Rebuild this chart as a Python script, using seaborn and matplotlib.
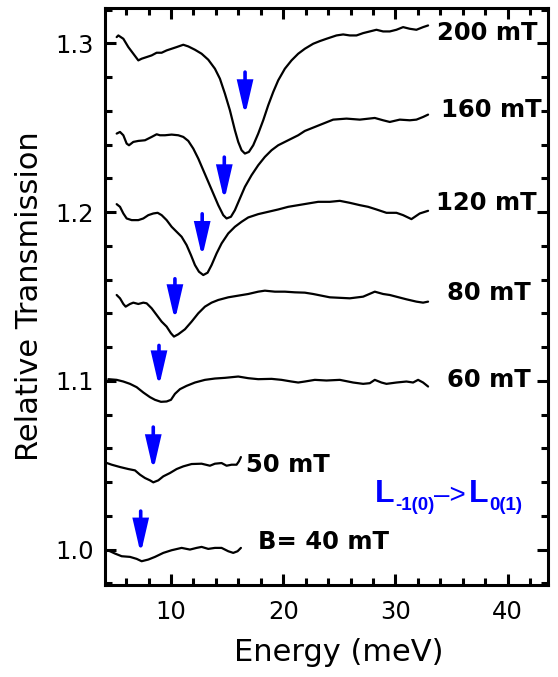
import numpy as np
import pandas as pd
import matplotlib
matplotlib.use("Agg")
import matplotlib.pyplot as plt
from matplotlib.ticker import MultipleLocator
import seaborn as sns

# Field labels of the stacked transmission spectra (top to bottom)
fields = ["200 mT", "160 mT", "120 mT", "80 mT", "60 mT", "50 mT", "B= 40 mT"]

# Spectra: photon energy (meV) and relative transmission (offset per field)
e_200 = [5.159, 5.307, 5.753, 6.198, 6.643, 7.088, 7.385, 7.830, 8.276, 8.721, 9.166, 9.611,
         10.056, 10.502, 11.095, 11.541, 12.134, 12.728, 13.322, 13.915, 14.36, 14.806, 15.251,
         15.696, 15.993, 16.29, 16.587, 16.943, 17.329, 17.774, 18.219, 18.664, 19.11, 19.555,
         20.148, 20.742, 21.336, 21.93, 22.671, 23.265, 23.859, 24.749, 25.343, 25.936, 26.53,
         27.124, 27.717, 28.311, 28.905, 29.498, 30.092, 30.686, 31.279, 31.873, 32.467, 32.912]
t_200 = [1.30375, 1.30473, 1.30276, 1.29783, 1.29389, 1.28994, 1.29093, 1.29191, 1.2929,
         1.29448, 1.29448, 1.29586, 1.29684, 1.29783, 1.29921, 1.29822, 1.29625, 1.29389,
         1.29034, 1.28501, 1.27909, 1.27022, 1.26036, 1.24852, 1.24162, 1.23669, 1.23472,
         1.2357, 1.23964, 1.24655, 1.25444, 1.26331, 1.2712, 1.27811, 1.28501, 1.28994, 1.29389,
         1.29684, 1.2998, 1.30138, 1.30276, 1.30473, 1.30532, 1.30473, 1.30473, 1.30611, 1.3071,
         1.30809, 1.3071, 1.3071, 1.30809, 1.30966, 1.30868, 1.30809, 1.30966, 1.31065]

e_160 = [5.159, 5.456, 5.753, 6.049, 6.257, 6.643, 7.088, 7.682, 8.276, 8.721, 9.018, 9.463,
         10.056, 10.65, 11.095, 11.541, 11.986, 12.431, 12.876, 13.322, 13.767, 14.212, 14.657,
         14.954, 15.34, 15.696, 16.141, 16.587, 17.18, 17.774, 18.367, 18.961, 19.555, 20.148,
         20.742, 21.336, 21.93, 23.562, 24.452, 25.64, 26.827, 28.163, 28.905, 29.498, 30.389,
         31.279, 31.873, 32.467, 32.912]
t_160 = [1.24655, 1.24753, 1.24556, 1.24063, 1.23964, 1.24162, 1.24221, 1.2426, 1.24458,
         1.24615, 1.24556, 1.24556, 1.24596, 1.24556, 1.24458, 1.24221, 1.23767, 1.23176,
         1.22485, 1.21795, 1.21105, 1.20414, 1.19822, 1.19625, 1.19724, 1.20118, 1.20809,
         1.21499, 1.2219, 1.22781, 1.23274, 1.23669, 1.23964, 1.24162, 1.24359, 1.24556,
         1.24813, 1.25247, 1.25483, 1.25543, 1.25483, 1.25582, 1.25444, 1.25345, 1.25483,
         1.25444, 1.25483, 1.25641, 1.2578]

e_120 = [5.159, 5.456, 5.753, 6.049, 6.495, 7.088, 7.533, 7.979, 8.424, 8.81, 9.166, 9.611,
         10.056, 10.502, 10.947, 11.392, 11.778, 12.134, 12.49, 12.876, 13.262, 13.618, 14.064,
         14.509, 15.103, 15.696, 16.29, 16.884, 17.774, 18.664, 19.555, 20.445, 21.336, 22.226,
         23.117, 24.155, 25.046, 25.936, 26.827, 27.569, 28.311, 29.202, 30.092, 30.686, 31.428,
         32.17, 32.912]
t_120 = [1.20473, 1.20315, 1.19921, 1.19625, 1.19527, 1.19527, 1.19625, 1.19822, 1.19921,
         1.1996, 1.19822, 1.19527, 1.19132, 1.18836, 1.1854, 1.18047, 1.17456, 1.16864, 1.1647,
         1.16272, 1.1641, 1.16864, 1.17554, 1.18146, 1.18738, 1.19132, 1.19428, 1.19685,
         1.19882, 1.2002, 1.20158, 1.20315, 1.20414, 1.20513, 1.20611, 1.20611, 1.2067, 1.20552,
         1.20414, 1.20315, 1.20158, 1.1996, 1.1996, 1.19822, 1.19586, 1.19921, 1.20079]

e_80 = [5.159, 5.456, 5.753, 5.96, 6.346, 6.643, 7.088, 7.533, 7.83, 8.276, 8.721, 9.166,
        9.611, 9.997, 10.264, 10.65, 11.244, 11.837, 12.431, 13.025, 13.618, 14.212, 15.103,
        15.993, 16.884, 17.774, 18.367, 19.258, 20.148, 21.039, 21.93, 22.671, 24.155, 25.936,
        27.124, 28.163, 28.905, 29.498, 30.982, 31.873, 32.467, 32.912]
t_80 = [1.15089, 1.14892, 1.14556, 1.14398, 1.14556, 1.14635, 1.14556, 1.14635, 1.14596,
        1.143, 1.13905, 1.1351, 1.13215, 1.1282, 1.12623, 1.12761, 1.13057, 1.1351, 1.14004,
        1.14398, 1.14635, 1.14793, 1.14951, 1.1505, 1.15148, 1.15286, 1.15345, 1.15286,
        1.15286, 1.15247, 1.15227, 1.15148, 1.14951, 1.14892, 1.1499, 1.15286, 1.15148,
        1.15089, 1.14833, 1.14695, 1.14635, 1.14695]

e_60 = [4.417, 5.159, 5.753, 6.346, 6.94, 7.533, 8.127, 8.572, 9.107, 9.611, 9.997, 10.353,
        10.798, 11.392, 12.134, 13.025, 13.915, 14.806, 15.993, 16.884, 17.774, 18.961, 19.852,
        20.742, 21.336, 21.93, 22.82, 23.859, 25.046, 26.233, 27.124, 27.717, 28.163, 28.756,
        29.202, 30.092, 30.983, 31.576, 32.021, 32.467, 32.912]
t_60 = [1.10099, 1.10059, 1.0996, 1.09822, 1.09625, 1.0931, 1.09034, 1.08876, 1.08757,
        1.08777, 1.08876, 1.09231, 1.09507, 1.09704, 1.09901, 1.10059, 1.10138, 1.10178,
        1.10256, 1.10158, 1.10099, 1.10118, 1.10059, 1.0996, 1.09901, 1.0996, 1.10059, 1.1002,
        1.10059, 1.09901, 1.09822, 1.09862, 1.10059, 1.09901, 1.09822, 1.09901, 1.0996,
        1.09901, 1.10059, 1.09901, 1.09664]

e_50 = [4.12, 4.714, 5.456, 6.198, 6.791, 7.237, 7.682, 8.127, 8.424, 8.869, 9.314, 9.908,
        10.502, 11.095, 11.837, 12.728, 13.47, 13.915, 14.509, 14.954, 15.399, 15.845, 16.052,
        16.231]
t_50 = [1.05168, 1.0503, 1.04892, 1.04773, 1.04694, 1.04438, 1.04241, 1.04103, 1.03984,
        1.04103, 1.0434, 1.04537, 1.04773, 1.04931, 1.0507, 1.05089, 1.0497, 1.05089, 1.05128,
        1.0497, 1.0503, 1.0503, 1.05227, 1.05483]

e_40 = [4.12, 4.565, 5.01, 5.604, 6.346, 6.94, 7.385, 7.979, 8.572, 9.314, 10.056, 10.947,
        11.689, 12.283, 12.728, 13.322, 13.915, 14.509, 15.103, 15.548, 15.934, 16.231]
t_40 = [1.0, 0.99901, 0.99763, 0.99605, 0.99566, 0.99448, 0.99309, 0.99408, 0.99566, 0.99803,
        0.99961, 1.00099, 1.0, 1.00099, 1.00158, 1.0004, 1.00099, 1.00099, 0.99901, 0.99803,
        0.99901, 1.00099]

# Position of the L-1(0) -> L0(1) resonance marked on each spectrum
arrow_energy = [16.6, 14.75, 12.78, 10.35, 8.93, 8.42, 7.3]
arrow_top = [1.2830, 1.2326, 1.1990, 1.1605, 1.1210, 1.0726, 1.0228]
arrow_tip = [1.2573, 1.2069, 1.1733, 1.1358, 1.0966, 1.0469, 0.9975]

# Field label anchors
label_x = [33.68, 34.04, 33.59, 34.57, 34.57, 16.68, 17.74]
label_y = [1.3059, 1.2603, 1.2052, 1.1521, 1.1008, 1.0504, 1.0042]

energies = [e_200, e_160, e_120, e_80, e_60, e_50, e_40]
trans = [t_200, t_160, t_120, t_80, t_60, t_50, t_40]

df = pd.concat(
    [pd.DataFrame({"energy": e, "transmission": t, "field": f})
     for e, t, f in zip(energies, trans, fields)],
    ignore_index=True,
)

sns.set_theme(style="ticks")
plt.rcParams["font.family"] = ["DejaVu Sans"]
plt.rcParams.update({"text.color": "black", "axes.labelcolor": "black",
                     "xtick.color": "black", "ytick.color": "black",
                     "axes.edgecolor": "black"})

fig = plt.figure(figsize=(5.58, 6.77), dpi=100)
ax = fig.add_axes([0.1882, 0.1359, 0.7939, 0.8523])

sns.lineplot(data=df, x="energy", y="transmission", units="field", estimator=None,
             sort=False, color="black", lw=1.6, ax=ax)

blue = "#0000ff"
for x, y0, y1 in zip(arrow_energy, arrow_top, arrow_tip):
    ax.annotate("", xy=(x, y1), xytext=(x, y0),
                arrowprops=dict(arrowstyle="-|>,head_length=0.95,head_width=0.22",
                                mutation_scale=20, lw=2.6, color=blue,
                                shrinkA=0, shrinkB=0, joinstyle="miter"))

for x, y, s in zip(label_x, label_y, fields):
    ax.text(x, y, s, fontsize=17.5, fontweight="bold", ha="left", va="center")

# Transition label built from chained text pieces
lab_font = ["Liberation Sans", "DejaVu Sans"]
t1 = ax.text(28.16, 1.0284, "L", fontsize=23, fontweight="bold", color=blue,
             family=lab_font, ha="left", va="baseline")
t2 = ax.annotate("-1(0)", xy=(1, 0), xycoords=t1, xytext=(0.5, -3.5),
                 textcoords="offset points", fontsize=13.5, fontweight="bold",
                 color=blue, family=lab_font, ha="left", va="bottom")
t3 = ax.annotate("\u2013>", xy=(1, 0), xycoords=(t2, t1), xytext=(0, 0),
                 textcoords="offset points", fontsize=20, color=blue,
                 family=lab_font, ha="left", va="bottom")
t4 = ax.annotate("L", xy=(1, 0), xycoords=t3, xytext=(2, 0),
                 textcoords="offset points", fontsize=23, fontweight="bold",
                 color=blue, family=lab_font, ha="left", va="bottom")
t5 = ax.annotate("0(1)", xy=(1, 0), xycoords=t4, xytext=(0.5, -3.5),
                 textcoords="offset points", fontsize=13.5, fontweight="bold",
                 color=blue, family=lab_font, ha="left", va="bottom")

ax.set_xlim(4.12, 43.6)
ax.set_ylim(0.979, 1.321)
ax.set_xticks([10, 20, 30, 40])
ax.set_yticks([1.0, 1.1, 1.2, 1.3])
ax.set_yticklabels(["1.0", "1.1", "1.2", "1.3"])
ax.xaxis.set_minor_locator(MultipleLocator(2))
ax.yaxis.set_minor_locator(MultipleLocator(0.02))
ax.tick_params(which="both", direction="in", top=True, right=True, width=2.2,
               labelsize=17.5, color="black", labelcolor="black")
ax.tick_params(which="major", length=8)
ax.tick_params(which="minor", length=5)
ax.tick_params(axis="x", pad=11)
ax.tick_params(axis="y", pad=8)
for sp in ax.spines.values():
    sp.set_linewidth(2.2)
    sp.set_color("black")

ax.set_xlabel("Energy (meV)", fontsize=22, labelpad=10, x=0.528)
ax.set_ylabel("Relative Transmission", fontsize=22, labelpad=8)

fig.savefig("out.png", dpi=100)
